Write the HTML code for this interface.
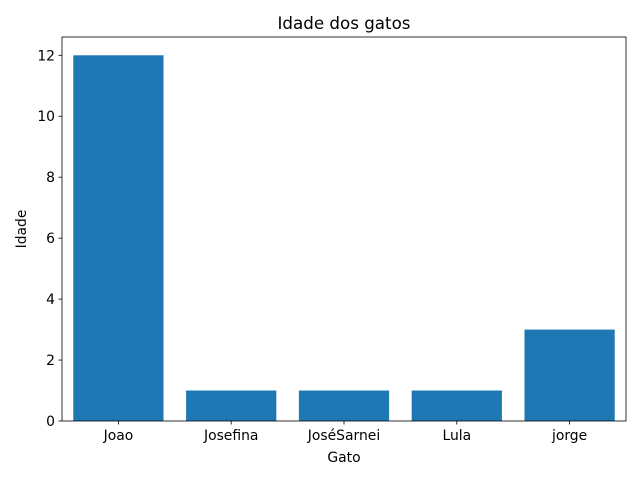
<!DOCTYPE html>
<html><head><meta charset="utf-8"><style>
body{margin:0;background:#fff;}
svg text{font-family:"DejaVu Sans","Liberation Sans",sans-serif;fill:#000;}
</style></head><body>
<svg id="chart" width="640" height="480" viewBox="0 0 640 480">
<rect width="640" height="480" fill="#fff"/>
<text x="344" y="29" font-size="16.7" text-anchor="middle">Idade dos gatos</text>
<g id="bars"></g>
<g id="axes"></g>
<text x="344" y="462" font-size="13.9" text-anchor="middle">Gato</text>
<text transform="translate(26,229) rotate(-90)" font-size="13.9" text-anchor="middle">Idade</text>
</svg>
<script>
const categories=["Joao","Josefina","JoséSarnei","Lula","jorge"];
const values=[12,1,1,1,3];
const yTicks=[0,2,4,6,8,10,12];
const L=62,R=626,T=37,B=421;
const ymax=Math.max(...values)*1.05;
const n=categories.length;
const xs=i=>L+(i+0.5)*(R-L)/n;
const ys=v=>B-v/ymax*(B-T);
const bw=0.8*(R-L)/n;
const NS="http://www.w3.org/2000/svg";
const bars=document.getElementById('bars'),axes=document.getElementById('axes');
function mk(tag,attrs,parent){const e=document.createElementNS(NS,tag);for(const k in attrs)e.setAttribute(k,attrs[k]);parent.appendChild(e);return e;}
values.forEach((v,i)=>{
 const r=mk('rect',{x:xs(i)-bw/2,y:ys(v),width:bw,height:ys(0)-ys(v),fill:'#1f77b4'},bars);
 
 
 mk('line',{x1:xs(i),x2:xs(i),y1:B,y2:B+3.5,stroke:'#000','stroke-width':0.8},axes);
 const lb=mk('text',{x:xs(i),y:B+19,'font-size':13.9,'text-anchor':'middle'},axes);
 lb.textContent=categories[i];
 
 
});
yTicks.forEach(v=>{
 mk('line',{x1:L-3.5,x2:L,y1:ys(v),y2:ys(v),stroke:'#000','stroke-width':0.8},axes);
 const lb=mk('text',{x:L-7,y:ys(v)+5,'font-size':13.9,'text-anchor':'end'},axes);
 lb.textContent=v;
 
 
});
const fr=mk('rect',{x:L,y:T,width:R-L,height:B-T,fill:'none',stroke:'#000','stroke-width':0.8},axes);


</script>
</body></html>
